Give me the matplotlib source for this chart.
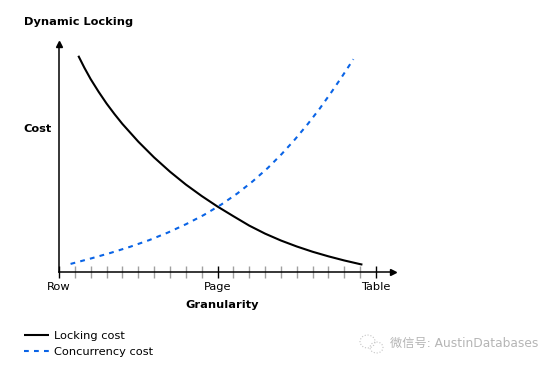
import matplotlib
matplotlib.use('Agg')
import matplotlib.pyplot as plt
from matplotlib.patches import Ellipse

W, H = 554, 368

tick_labels = ['Row', 'Page', 'Table']
major_ticks = [0, 10, 20]
minor_ticks = [1, 2, 3, 4, 5, 6, 7, 8, 9, 11, 12, 13, 14, 15, 16, 17, 18, 19]

locking_x = [1.22, 1.6, 2, 2.5, 3, 3.5, 4, 5, 6, 7, 8, 9, 10, 11, 12, 13, 14, 15, 16, 17, 18, 19, 19.14]
locking_y = [94.0, 88.8, 83.8, 78.3, 73.2, 68.6, 64.3, 56.6, 49.7, 43.5, 37.9, 32.9, 28.3, 24.1, 20.0, 16.5, 13.5, 10.9, 8.6, 6.6, 4.8, 3.2, 3.0]
concurrency_x = [0.73, 2.08, 3.30, 4.50, 5.70, 6.88, 8.01, 9.13, 10.22, 11.25, 12.22, 13.17, 14.05, 14.89, 15.71, 16.47, 17.21, 17.90, 18.57]
concurrency_y = [3.3, 5.8, 8.2, 10.8, 13.7, 17.0, 20.6, 24.6, 29.1, 34.0, 39.3, 45.1, 51.2, 57.6, 64.4, 71.2, 78.4, 85.4, 92.5]

plt.rcParams['font.family'] = ['DejaVu Sans', 'Noto Sans CJK SC']
plt.rcParams['font.size'] = 8.2

fig = plt.figure(figsize=(W / 100, H / 100), dpi=100)
ax = fig.add_axes([59 / W, 1 - 271.5 / H, 334 / W, 228 / H])
ax.set_xlim(0, 21.07)
ax.set_ylim(0, 99.35)
ax.patch.set_visible(False)
for side in ['top', 'right']:
    ax.spines[side].set_visible(False)
for side in ['left', 'bottom']:
    ax.spines[side].set_linewidth(1.1)

# Axis arrows
ax.plot(1, 0, '>k', ms=5, transform=ax.transAxes, clip_on=False)
ax.plot(0, 1, '^k', ms=5, transform=ax.transAxes, clip_on=False)

ax.set_xticks(major_ticks)
ax.set_xticklabels(tick_labels)
ax.set_xticks(minor_ticks, minor=True)
ax.tick_params(axis='x', which='major', direction='inout', length=8, width=1, pad=3.2, color='black', labelsize=8.2)
ax.tick_params(axis='x', which='minor', direction='inout', length=8, width=1, color='#a0a0a0')
ax.set_yticks([])

ax.plot(locking_x, locking_y, color='black', lw=1.5, solid_capstyle='butt', solid_joinstyle='round', label='Locking cost')
ax.plot(concurrency_x, concurrency_y, color='#0a64e6', lw=1.5, linestyle=(0, (2.3, 2.5)), label='Concurrency cost')

fig.text(23.5 / W, 1 - 22 / H, 'Dynamic Locking', fontweight='bold', va='center', ha='left', fontsize=8.2)
fig.text(23.5 / W, 1 - 129 / H, 'Cost', fontweight='bold', va='center', ha='left', fontsize=8.2)
fig.text(222 / W, 1 - 305 / H, 'Granularity', fontweight='bold', va='center', ha='center', fontsize=8.2)

ax.legend(loc='lower left', bbox_to_anchor=(24 / W, 1 - 357 / H), bbox_transform=fig.transFigure,
          frameon=False, borderpad=0, borderaxespad=0, handlelength=2.2, handletextpad=0.4,
          labelspacing=0.55, fontsize=8.2)

# Watermark
fig.text(390 / W, 1 - 343 / H, '微信号: AustinDatabases', color='#b5b5b5', va='center', ha='left', fontsize=8.8)
pic = fig.add_axes([0, 0, 1, 1])
pic.set_xlim(0, W)
pic.set_ylim(H, 0)
pic.axis('off')
pic.patch.set_visible(False)
pic.add_patch(Ellipse((367.5, 341.5), 15, 13, fill=False, ec='#c4c4c4', lw=0.8, ls=':'))
pic.add_patch(Ellipse((376.5, 347.5), 13, 11, fill=False, ec='#c4c4c4', lw=0.8, ls=':'))

fig.savefig('out.png', dpi=100)
